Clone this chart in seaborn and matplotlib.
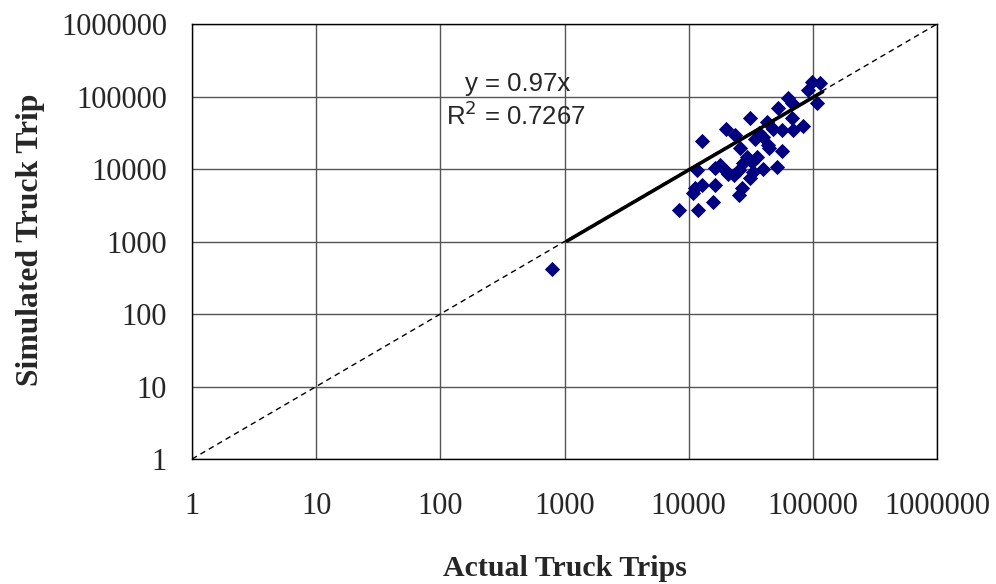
import matplotlib
matplotlib.use("Agg")
import matplotlib.pyplot as plt
import numpy as np
import pandas as pd
import seaborn as sns
from matplotlib.transforms import Bbox

# values (truck trips per zone)
actual = [98000, 115000, 92000, 108000, 63000, 68000, 52000, 31000, 68000, 43000,
          83000, 69000, 56000, 48000, 20000, 23700, 34000, 40000, 12800, 44000,
          26000, 56000, 29400, 35400, 32300, 17900, 16300, 11600, 51000, 40000,
          25200, 20900, 23000, 33000, 31300, 12800, 11300, 16300, 10900, 26800,
          25200, 15800, 8280, 11800, 20300, 27500, 43700, 37000, 800]
simulated = [161000, 153000, 124000, 82000, 95000, 81000, 70000, 50000, 50000, 45000,
             39500, 34500, 35000, 36000, 36000, 29000, 26000, 28000, 24000, 19800,
             19200, 17800, 14700, 14700, 12500, 11200, 10400, 9600, 10700, 10100,
             9600, 8600, 8200, 9100, 7400, 6100, 5500, 6100, 4650, 5500,
             4400, 3480, 2730, 2730, 9100, 12000, 21300, 31000, 414]

slope = 0.97
r_squared = 0.7267
trend_x = [1050, 120000]
diag = [1, 1000000]
ticks = [1, 10, 100, 1000, 10000, 100000, 1000000]
tick_labels = ["1", "10", "100", "1000", "10000", "100000", "1000000"]

df = pd.DataFrame({"actual": actual, "simulated": simulated})
trend = pd.DataFrame({"x": trend_x, "y": [slope * v for v in trend_x]})

sns.set_style("white")
plt.rcParams["font.family"] = ["Liberation Serif", "DejaVu Serif"]

fig = plt.figure(figsize=(9.96, 5.84), dpi=100)
ax = fig.add_axes([0.1928, 0.214, 0.748, 0.7449])

ax.plot(diag, diag, color="black", lw=1.0, ls=(0, (4, 3)), zorder=2)
sns.scatterplot(data=df, x="actual", y="simulated", marker="D", s=60,
                color="#000080", edgecolor="#000080", linewidth=0, ax=ax, zorder=3)
sns.lineplot(data=trend, x="x", y="y", color="black", lw=2.6, ax=ax, zorder=4)

ax.set_xscale("log")
ax.set_yscale("log")
ax.set_xlim(1, 1000000)
ax.set_ylim(1, 1000000)
ax.set_xticks(ticks)
ax.set_xticklabels(tick_labels)
ax.set_yticks(ticks)
ax.set_yticklabels(tick_labels)
ax.minorticks_off()
ax.tick_params(length=0, labelsize=22)
ax.tick_params(axis="y", pad=18)
ax.tick_params(axis="x", pad=24)
ax.grid(True, color="#555555", lw=1.0)
for sp in ax.spines.values():
    sp.set_color("black")
    sp.set_linewidth(1.0)

ax.set_xlabel("Actual Truck Trips", fontsize=21.5, fontweight="bold", labelpad=24)
yl = ax.set_ylabel("Simulated Truck Trips", fontsize=22.8, fontweight="bold")
ax.yaxis.set_label_coords(-0.198, 0.517)
# the original label runs off the top of its box
yl.set_clip_box(Bbox.from_extents(0, 0, 996, 584 - 94))
yl.set_clip_on(True)

ax.text(0.437, 0.861, f"y = {slope}x", transform=ax.transAxes, ha="center",
        va="center", fontsize=18.5, family=["Liberation Sans", "DejaVu Sans"])
ax.text(0.435, 0.79, f"R$^2$ = {r_squared}", transform=ax.transAxes, ha="center",
        va="center", fontsize=18.5, family=["Liberation Sans", "DejaVu Sans"])

fig.savefig("out.png", dpi=100)
